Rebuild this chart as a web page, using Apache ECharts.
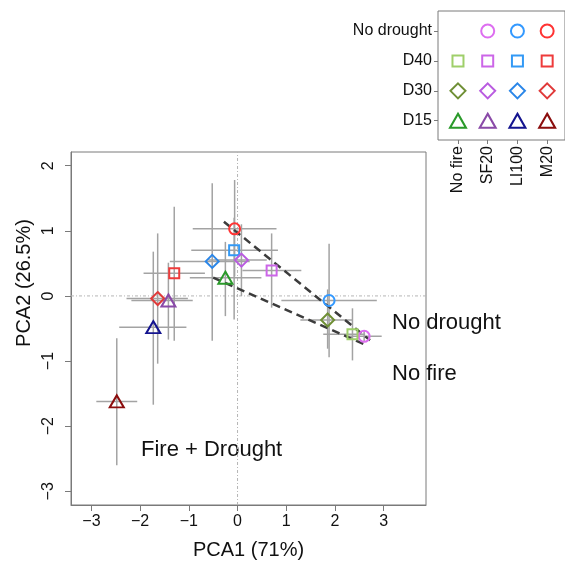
<!DOCTYPE html>
<html>
<head>
<meta charset="utf-8">
<script src="https://cdn.jsdelivr.net/npm/echarts@6/dist/echarts.min.js"></script>
<style>
  html, body { margin: 0; padding: 0; background: #fff; }
  #main { width: 565px; height: 565px; }
</style>
</head>
<body>
<div id="main"></div>
<script>
// factor levels
const fireLevels = ['No fire', 'SF20', 'LI100', 'M20']
const droughtLevels = ['D15', 'D30', 'D40', 'No drought']

// treatment of each point (index into the level lists)
const pointFire = [3, 2, 1, 0, 1, 2, 3, 0, 1, 2, 3, 0, 1, 2, 3]
const pointDrought = [3, 3, 3, 2, 2, 2, 2, 1, 1, 1, 1, 0, 0, 0, 0]

// PCA scores (mean) and error bar ends
const pca1 = [-0.06, 1.88, 2.60, 2.36, 0.70, -0.07, -1.30, 1.85, 0.08, -0.52, -1.64, -0.25, -1.42, -1.73, -2.48]
const pca2 = [1.03, -0.07, -0.62, -0.59, 0.39, 0.70, 0.35, -0.37, 0.55, 0.53, -0.04, 0.28, -0.07, -0.48, -1.62]
const pca1Low = [-0.92, 0.90, 2.25, 1.76, 0.10, -0.95, -1.93, 1.29, -0.60, -1.39, -2.28, -0.98, -2.18, -2.43, -2.90]
const pca1High = [0.80, 2.86, 2.96, 2.62, 1.31, 0.83, -0.67, 2.36, 0.60, 0.25, -1.02, 0.49, -0.92, -1.05, -2.06]
const pca2Low = [0.30, -0.94, -0.70, -0.99, -0.18, -0.36, -0.69, -0.81, 0.00, -0.69, -1.04, -0.31, -0.67, -1.67, -2.60]
const pca2High = [1.78, 0.80, -0.54, -0.19, 0.96, 1.20, 1.37, 0.10, 1.10, 1.73, 0.96, 0.83, 0.51, 0.68, -0.65]

// dashed hull lines
const hullUpper = [[-0.28, 1.14], [2.72, -0.68]]
const hullLower = [[-0.50, 0.28], [2.66, -0.76]]

// tick values
const xTicks = [-3, -2, -1, 0, 1, 2, 3]
const yTicks = [-3, -2, -1, 0, 1, 2]

// axis ranges
const xMin = -3.42
const xMax = 3.87
const yMin = -3.21
const yMax = 2.21

// colours [fire][drought]
const colors = [
  ['#2a9a2a', '#6f8f35', '#9fcf6a', '#9fcf6a'],
  ['#8a4aa8', '#b95be0', '#cc66e8', '#dd6ef0'],
  ['#14148f', '#2a86e8', '#3399f5', '#3399ff'],
  ['#8b0d0d', '#e03a3a', '#ee3b3b', '#ff3333']
]
const symbols = ['triangle', 'diamond', 'rect', 'circle']
const plotSizes = [[14, 12], [13, 13], [10, 10], [11, 11]]
const keySizes = [[16, 14], [15, 15], [11, 11], [13, 13]]

const font = 'Liberation Sans, Arial, Helvetica, sans-serif'
const minus = (v) => String(v).replace('-', '\u2212')

const points = pca1.map((x, i) => {
  const f = pointFire[i]
  const d = pointDrought[i]
  return {
    value: [x, pca2[i]],
    symbol: symbols[d],
    symbolSize: plotSizes[d],
    itemStyle: { color: 'rgba(255,255,255,0)', borderColor: colors[f][d], borderWidth: 2, opacity: 1 }
  }
})

const errorData = pca1.map((x, i) => [x, pca2[i], pca1Low[i], pca1High[i], pca2Low[i], pca2High[i]])

// legend grid: every fire x drought combination that exists
const keyData = pca1.map((x, i) => {
  const f = pointFire[i]
  const d = pointDrought[i]
  return {
    value: [f + 1, d + 1],
    symbol: symbols[d],
    symbolSize: keySizes[d],
    itemStyle: { color: 'rgba(255,255,255,0)', borderColor: colors[f][d], borderWidth: 2, opacity: 1 }
  }
})

const myChart = echarts.init(document.getElementById('main'))

const grayLine = { lineStyle: { color: '#7a7a7a', width: 1 } }

const option = {
  animation: false,
  backgroundColor: '#fff',
  textStyle: { fontFamily: font },
  grid: [
    { left: 71, top: 152, width: 355, height: 355, show: true, borderColor: '#7a7a7a', borderWidth: 1, containLabel: false },
    { left: 438, top: 11, width: 129, height: 129, show: true, borderColor: '#7a7a7a', borderWidth: 1, containLabel: false }
  ],
  xAxis: [
    {
      type: 'value',
      gridIndex: 0,
      min: xMin,
      max: xMax,
      splitLine: { show: false },
      axisLine: { show: true, onZero: false, ...grayLine },
      axisTick: { show: true, inside: false, length: 6, customValues: xTicks, ...grayLine },
      axisLabel: { customValues: xTicks, formatter: minus, fontSize: 16, color: '#111', margin: 9, fontFamily: font },
      name: 'PCA1 (71%)',
      nameLocation: 'middle',
      nameGap: 35,
      nameTextStyle: { fontSize: 20, color: '#111', fontFamily: font }
    },
    {
      type: 'value',
      gridIndex: 1,
      min: 0.328,
      max: 4.6,
      splitLine: { show: false },
      axisLine: { show: false },
      axisTick: { show: true, length: 4, customValues: [1, 2, 3, 4], ...grayLine },
      axisLabel: {
        customValues: [1, 2, 3, 4],
        formatter: (v) => fireLevels[v - 1],
        rotate: 90,
        fontSize: 16,
        color: '#111',
        margin: 6,
        fontFamily: font
      }
    }
  ],
  yAxis: [
    {
      type: 'value',
      gridIndex: 0,
      min: yMin,
      max: yMax,
      splitLine: { show: false },
      axisLine: { show: true, onZero: false, ...grayLine },
      axisTick: { show: true, inside: false, length: 6, customValues: yTicks, ...grayLine },
      axisLabel: { customValues: yTicks, formatter: minus, rotate: 90, fontSize: 16, color: '#111', margin: 14, fontFamily: font }
    },
    {
      type: 'value',
      gridIndex: 1,
      min: 0.356,
      max: 4.67,
      splitLine: { show: false },
      axisLine: { show: false },
      axisTick: { show: true, length: 4, customValues: [1, 2, 3, 4], ...grayLine },
      axisLabel: {
        customValues: [1, 2, 3, 4],
        formatter: (v) => droughtLevels[v - 1],
        fontSize: 16,
        color: '#111',
        margin: 6,
        fontFamily: font
      }
    }
  ],
  series: [
    {
      // zero reference lines
      type: 'line',
      xAxisIndex: 0,
      yAxisIndex: 0,
      data: [[0, yMin], [0, yMax]],
      symbol: 'none',
      silent: true,
      z: 1,
      lineStyle: { color: '#b5b5b5', width: 1, type: [3, 2, 1, 2] }
    },
    {
      type: 'line',
      xAxisIndex: 0,
      yAxisIndex: 0,
      data: [[xMin, 0], [xMax, 0]],
      symbol: 'none',
      silent: true,
      z: 1,
      lineStyle: { color: '#b5b5b5', width: 1, type: [3, 2, 1, 2] }
    },
    {
      // error bars
      type: 'custom',
      xAxisIndex: 0,
      yAxisIndex: 0,
      z: 2,
      encode: { x: 0, y: 1 },
      data: errorData,
      renderItem: (params, api) => {
        const y = api.value(1)
        const x = api.value(0)
        const a = api.coord([api.value(2), y])
        const b = api.coord([api.value(3), y])
        const c = api.coord([x, api.value(4)])
        const d = api.coord([x, api.value(5)])
        const style = { stroke: '#a3a3a3', lineWidth: 1.5 }
        return {
          type: 'group',
          children: [
            { type: 'line', shape: { x1: a[0], y1: a[1], x2: b[0], y2: b[1] }, style },
            { type: 'line', shape: { x1: c[0], y1: c[1], x2: d[0], y2: d[1] }, style }
          ]
        }
      }
    },
    {
      type: 'line',
      xAxisIndex: 0,
      yAxisIndex: 0,
      data: hullUpper,
      symbol: 'none',
      z: 3,
      lineStyle: { color: '#3c3c3c', width: 2.5, type: [8, 5] }
    },
    {
      type: 'line',
      xAxisIndex: 0,
      yAxisIndex: 0,
      data: hullLower,
      symbol: 'none',
      z: 3,
      lineStyle: { color: '#3c3c3c', width: 2.5, type: [8, 5] }
    },
    {
      type: 'scatter',
      xAxisIndex: 0,
      yAxisIndex: 0,
      z: 4,
      data: points
    },
    {
      type: 'scatter',
      xAxisIndex: 1,
      yAxisIndex: 1,
      z: 4,
      data: keyData
    }
  ],
  graphic: [
    {
      type: 'text',
      x: 24,
      y: 283,
      rotation: Math.PI / 2,
      style: { text: 'PCA2 (26.5%)', font: '20px ' + font, fill: '#111', textAlign: 'center', textVerticalAlign: 'middle' }
    },
    {
      type: 'text',
      x: 392,
      y: 323,
      style: { text: 'No drought', font: '22px ' + font, fill: '#111', textAlign: 'left', textVerticalAlign: 'middle' }
    },
    {
      type: 'text',
      x: 392,
      y: 374,
      style: { text: 'No fire', font: '22px ' + font, fill: '#111', textAlign: 'left', textVerticalAlign: 'middle' }
    },
    {
      type: 'text',
      x: 141,
      y: 450,
      style: { text: 'Fire + Drought', font: '22px ' + font, fill: '#111', textAlign: 'left', textVerticalAlign: 'middle' }
    }
  ]
}

myChart.setOption(option)
</script>
</body>
</html>
